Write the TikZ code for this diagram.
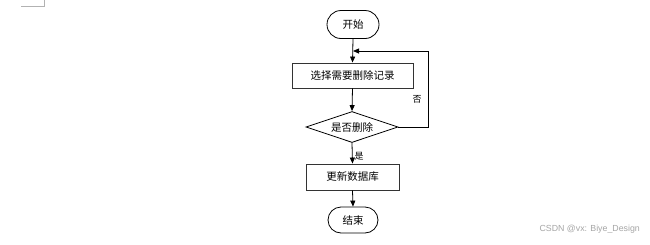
\documentclass[tikz,border=0pt]{standalone}
\usepackage{fontspec}
\setmainfont{Liberation Sans}
\newfontfamily\cjk{Noto Sans CJK SC}
\usetikzlibrary{shapes.geometric,shapes.misc,arrows.meta}
\begin{document}
\begin{tikzpicture}[x=1pt,y=-1pt,
  term/.style={draw=black,line width=0.8pt,rounded rectangle,minimum width=52pt,minimum height=28pt,inner sep=0pt,font=\cjk\fontsize{10.5}{12}\selectfont},
  procbox/.style={draw=black!80,line width=0.9pt,rectangle,inner sep=0pt,font=\cjk\fontsize{10.5}{12}\selectfont},
  decbox/.style={draw=black,line width=0.8pt,diamond,aspect=3,inner sep=0pt,minimum width=92pt,minimum height=31pt,font=\cjk\fontsize{10.5}{12}\selectfont},
  conn/.style={draw=black,line width=0.8pt,-{Triangle[length=6pt,width=5pt]}},
  lbl/.style={font=\cjk\fontsize{9}{10}\selectfont,inner sep=0pt}]
\useasboundingbox (0,0) rectangle (650,244);
\fill[white] (0,0) rectangle (650,244);
% page corner mark
\coordinate (c1) at (21,6);
\coordinate (c2) at (44,6);
\coordinate (c3) at (44,0);
\draw[black!30,line width=0.6pt] (c1) -- (c2) -- (c3);
% nodes
\node[term] (start) at (353,24.5) {开始};
\node[procbox,minimum width=121pt,minimum height=25pt] (sel) at (352.5,75.5) {选择需要删除记录};
\node[decbox] (dec) at (352,127) {是否删除};
\node[procbox,minimum width=93pt,minimum height=26pt] (upd) at (352.5,177) {更新数据库};
\node[term,minimum width=50pt,minimum height=26pt] (end) at (353,220) {结束};
\coordinate (join) at (353,51);
\coordinate (rt) at (428,127);
\coordinate (rtop) at (428,51);
% connectors
\draw[conn] (start.south) -- (sel.north);
\draw[conn] (sel.south) -- (dec.north);
\draw[conn] (dec.south) -- (upd.north);
\draw[conn] (upd.south) -- (end.north);
\draw[conn] (dec.east) -- (rt) -- (rtop) -- (join);
% labels
\node[lbl] (no) at (417,99) {否};
\node[lbl] (yes) at (359,156) {是};
% watermark
\node[font=\fontsize{8.8}{10}\selectfont,text=black!35,anchor=east,inner sep=0pt] (wm) at (640,229) {CSDN @vx: Biye\_Design};
\end{tikzpicture}
\end{document}
